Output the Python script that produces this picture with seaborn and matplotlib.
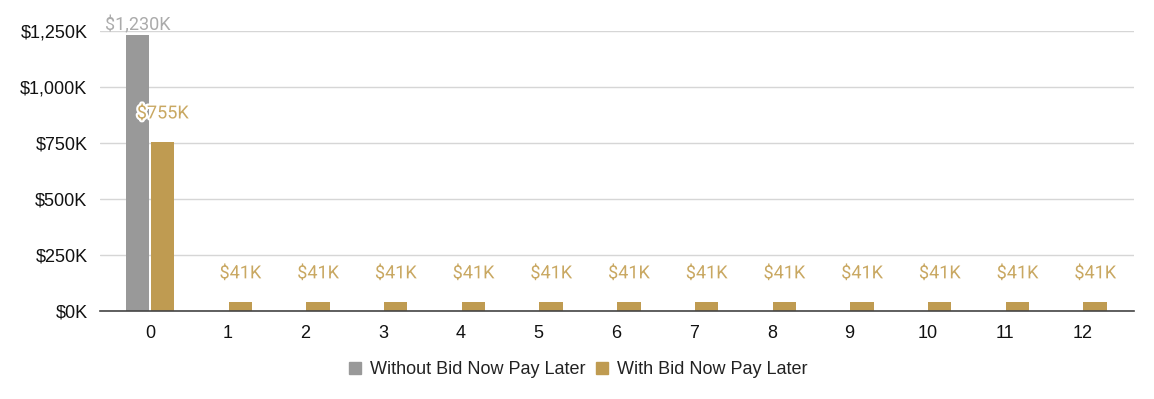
import matplotlib
matplotlib.use("Agg")
import matplotlib.pyplot as plt
import matplotlib.patheffects as pe
from matplotlib.lines import Line2D
import seaborn as sns
import pandas as pd

months = ["0", "1", "2", "3", "4", "5", "6", "7", "8", "9", "10", "11", "12"]
without_bnpl = [1230, 0, 0, 0, 0, 0, 0, 0, 0, 0, 0, 0, 0]
with_bnpl = [755, 41, 41, 41, 41, 41, 41, 41, 41, 41, 41, 41, 41]
series_names = ["Without Bid Now Pay Later", "With Bid Now Pay Later"]
y_ticks = [0, 250, 500, 750, 1000, 1250]

GRAY = "#999999"
GOLD = "#BF9B51"
GRAY_LBL = "#ABABAB"
GOLD_LBL = "#C9A862"

sns.set_theme(style="white")
plt.rcParams["font.family"] = ["Liberation Sans", "DejaVu Sans"]

df = pd.DataFrame({
    "month": months * 2,
    "value": without_bnpl + with_bnpl,
    "series": [series_names[0]] * len(months) + [series_names[1]] * len(months),
})

fig = plt.figure(figsize=(11.54, 3.99), dpi=100)
ax = fig.add_axes([0.0867, 0.2206, 0.896, 0.7017])

sns.barplot(data=df, x="month", y="value", hue="series", order=months,
            hue_order=series_names, palette=[GRAY, GOLD], saturation=1,
            width=0.64, gap=0.06, edgecolor="none", linewidth=0,
            legend=False, ax=ax, zorder=3)

ax.set_xlim(-0.645, 12.66)
ax.set_ylim(0, 1250)
ax.set_yticks(y_ticks)
ax.set_yticklabels([f"${v:,}K" for v in y_ticks])
ax.yaxis.grid(True, color="#D6D6D6", linewidth=1, zorder=0)
ax.xaxis.grid(False)
for s in ["top", "right", "left"]:
    ax.spines[s].set_visible(False)
ax.spines["bottom"].set_color("#444444")
ax.spines["bottom"].set_linewidth(1.2)
ax.spines["bottom"].set_zorder(4)
ax.tick_params(axis="x", length=0, pad=10, labelsize=13, labelcolor="#111111")
ax.tick_params(axis="y", length=0, pad=9, labelsize=13, labelcolor="#111111")
ax.set_xlabel("")
ax.set_ylabel("")

# data labels
halo = [pe.withStroke(linewidth=3, foreground="white")]
cont_without, cont_with = ax.containers[0], ax.containers[1]
for bar, v in zip(cont_without, without_bnpl):
    if v > 0:
        ax.annotate(f"${v:,}K", (bar.get_x() + bar.get_width() / 2, v),
                    xytext=(0, 1), textcoords="offset points", ha="center",
                    va="bottom", fontsize=13, color=GRAY_LBL, zorder=5,
                    family=["Roboto", "DejaVu Sans"], annotation_clip=False)
for bar, v in zip(cont_with, with_bnpl):
    ax.annotate(f"${v:,}K", (bar.get_x() + bar.get_width() / 2, v),
                xytext=(0, 14), textcoords="offset points", ha="center",
                va="bottom", fontsize=13, color=GOLD_LBL, zorder=5,
                family=["Roboto", "DejaVu Sans"], path_effects=halo,
                annotation_clip=False)

handles = [Line2D([], [], marker="s", linestyle="none", markersize=9,
                  markerfacecolor=c, markeredgecolor=c) for c in (GRAY, GOLD)]
fig.legend(handles, series_names, loc="center", bbox_to_anchor=(0.5, 0.073),
           ncol=2, frameon=False, fontsize=13, handlelength=1.0,
           handletextpad=0.35, columnspacing=0.4, labelcolor="#222222")

fig.savefig("out.png", dpi=100)
